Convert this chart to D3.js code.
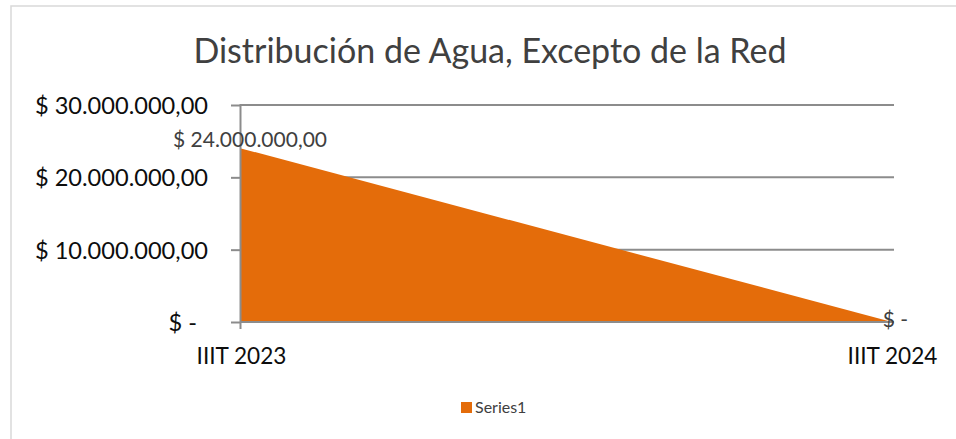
<!DOCTYPE html>
<html><head><meta charset="utf-8">
<script src="https://cdn.jsdelivr.net/npm/d3@7"></script>
<style>
  body { margin: 0; background: #fff; }
  text { font-family: Lato, "Open Sans", sans-serif; }
</style>
</head><body>
<svg id="chart" width="956" height="439"></svg>
<script>
// ---- data ----
const categories = ["IIIT 2023", "IIIT 2024"];
const series1 = [24000000, 0];
const yTicks = [0, 10000000, 20000000, 30000000];
const seriesName = "Series1";
const title = "Distribución de Agua, Excepto de la Red";

// ---- formatting (Excel accounting style, es locale) ----
function fmtMoney(v) {
  if (v === 0) return "$ -";
  const s = v.toFixed(2).split(".");
  const intPart = s[0].replace(/\B(?=(\d{3})+(?!\d))/g, ".");
  return "$ " + intPart + "," + s[1];
}
// accounting format pads the "-" of zero with trailing space
const zeroPad = 11;

const svg = d3.select("#chart");
const W = 956, H = 439;
const orange = "#E46C0A";
const gridColor = "#8C8C8C";

// chart border
svg.append("rect")
  .attr("x", 11).attr("y", 6).attr("width", W).attr("height", H)
  .attr("fill", "#fff").attr("stroke", "#D9D9D9").attr("stroke-width", 1.5);

const plot = { left: 241, right: 892, top: 105, bottom: 322 };

const x = d3.scalePoint().domain(categories).range([plot.left, plot.right]);
const y = d3.scaleLinear().domain([0, 30000000]).range([plot.bottom, plot.top]);

// title
svg.append("text")
  .attr("x", 490).attr("y", 63)
  .attr("text-anchor", "middle")
  .style("font-size", "34px").style("fill", "#404040")
  .text(title);

// gridlines
svg.append("g").selectAll("line").data(yTicks.filter(d => d > 0)).join("line")
  .attr("x1", plot.left).attr("x2", plot.right + 2)
  .attr("y1", d => y(d)).attr("y2", d => y(d))
  .attr("stroke", gridColor).attr("stroke-width", 2);

// area
const area = d3.area()
  .x((d, i) => x(categories[i]))
  .y0(y(0))
  .y1(d => y(d));
svg.append("path").datum(series1)
  .attr("d", area).attr("fill", orange);

// y axis (left) with ticks, labels
const yAxis = d3.axisLeft(y).tickValues(yTicks).tickSize(10).tickFormat(fmtMoney);
const gy = svg.append("g").attr("transform", `translate(${plot.left},0)`).call(yAxis);
gy.select(".domain").remove();
gy.selectAll(".tick line").attr("stroke", gridColor).attr("stroke-width", 2);
gy.selectAll(".tick text")
  .attr("x", d => d === 0 ? -33 - zeroPad : -33).attr("dy", "0.36em")
  .style("font-size", "23.6px").style("fill", "#0D0D0D")
  .style("font-family", "Lato, 'Open Sans', sans-serif");

// vertical axis line
svg.append("line")
  .attr("x1", plot.left - 0.5).attr("x2", plot.left - 0.5)
  .attr("y1", plot.top - 1).attr("y2", plot.bottom + 7)
  .attr("stroke", gridColor).attr("stroke-width", 2);

// x axis (baseline) with category labels
const xAxis = d3.axisBottom(x).tickSize(0).tickPadding(0);
const gx = svg.append("g").attr("transform", `translate(0,${y(0)})`).call(xAxis);
gx.select(".domain").remove();
gx.selectAll(".tick text")
  .attr("y", 42).attr("dy", 0)
  .style("font-size", "22.6px").style("fill", "#0D0D0D")
  .style("font-family", "Lato, 'Open Sans', sans-serif");
svg.append("line")
  .attr("x1", plot.left).attr("x2", plot.right + 2)
  .attr("y1", y(0)).attr("y2", y(0))
  .attr("stroke", gridColor).attr("stroke-width", 2);

// data labels
svg.append("g").selectAll("text").data(series1).join("text")
  .attr("x", (d, i) => x(categories[i]) + (d === 0 ? 9 - zeroPad / 2 : 9))
  .attr("y", d => d > 0 ? y(d) - 1.5 : y(d) + 5)
  .attr("text-anchor", "middle")
  .style("font-size", "21px").style("fill", "#404040")
  .text(d => fmtMoney(d));

// legend
const lg = svg.append("g").attr("transform", "translate(461,402)");
lg.append("rect").attr("width", 11).attr("height", 11).attr("fill", orange);
lg.append("text").attr("x", 14).attr("y", 10.5)
  .style("font-size", "16px").style("fill", "#404040")
  .text(seriesName);
</script></body></html>
